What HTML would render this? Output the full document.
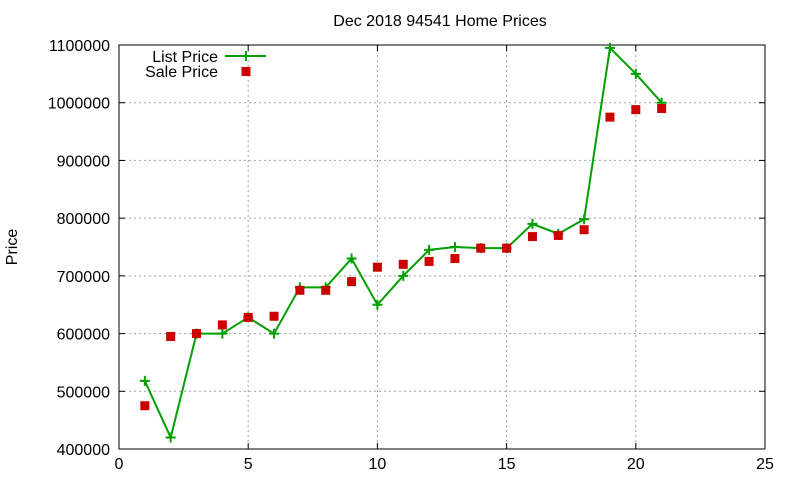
<!DOCTYPE html>
<html><head><meta charset="utf-8"><style>
body{margin:0;background:#fff}
svg{display:block;font-family:"Liberation Sans",sans-serif}
</style></head><body>
<svg id="s" width="800" height="480" xmlns="http://www.w3.org/2000/svg"></svg>
<script>
var L=119,R=765,T=45,B=449;
function X(v){return L+(R-L)*v/25}
function Y(v){return B-(B-T)*(v-400000)/700000}
var h='<rect width="800" height="480" fill="#fff"/>';
h+='<text x="440" y="26" font-size="16" text-anchor="middle">Dec 2018 94541 Home Prices</text>';
h+='<text transform="translate(17,247) rotate(-90)" font-size="16" text-anchor="middle">Price</text>';
for(var i=0;i<=5;i++){var x=X(i*5);
 if(i>0&&i<5)h+='<line x1="'+x+'" y1="'+T+'" x2="'+x+'" y2="'+B+'" stroke="#a0a0a0" stroke-dasharray="2,3"/>';
 h+='<line x1="'+x+'" y1="'+B+'" x2="'+x+'" y2="'+(B-6)+'" stroke="#000"/><line x1="'+x+'" y1="'+T+'" x2="'+x+'" y2="'+(T+6)+'" stroke="#000"/>';
 h+='<text x="'+x+'" y="469" font-size="16" text-anchor="middle">'+(i*5)+'</text>';}
for(var v=400000;v<=1100000;v+=100000){var y=Y(v);
 if(v>400000&&v<1100000)h+='<line x1="'+L+'" y1="'+y+'" x2="'+R+'" y2="'+y+'" stroke="#a0a0a0" stroke-dasharray="2,3"/>';
 h+='<line x1="'+L+'" y1="'+y+'" x2="'+(L+6)+'" y2="'+y+'" stroke="#000"/><line x1="'+R+'" y1="'+y+'" x2="'+(R-6)+'" y2="'+y+'" stroke="#000"/>';
 h+='<text x="'+(L-9)+'" y="'+(y+6)+'" font-size="16" text-anchor="end">'+v+'</text>';}
h+='<rect x="'+L+'" y="'+T+'" width="'+(R-L)+'" height="'+(B-T)+'" fill="none" stroke="#000"/>';
var lp=[518000,420000,600000,600000,628000,600000,680000,680000,730000,650000,700000,745000,750000,748000,748000,790000,773000,798000,1095000,1050000,1000000];
var sp=[475000,595000,600000,615000,628000,630000,675000,675000,690000,715000,720000,725000,730000,748000,748000,768000,770000,780000,975000,988000,990000];
var pts=lp.map(function(v,i){return X(i+1)+','+Y(v)}).join(' ');
h+='<polyline points="'+pts+'" fill="none" stroke="#00a000" stroke-width="2"/>';
lp.forEach(function(v,i){var x=X(i+1),y=Y(v);h+='<path d="M'+(x-5)+' '+y+'H'+(x+5)+'M'+x+' '+(y-5)+'V'+(y+5)+'" stroke="#00a000" stroke-width="2"/>';});
sp.forEach(function(v,i){var x=X(i+1),y=Y(v);h+='<rect x="'+(x-4.5)+'" y="'+(y-4.5)+'" width="9" height="9" fill="#cc0000"/>';});
h+='<text x="218" y="62" font-size="16" text-anchor="end">List Price</text>';
h+='<line x1="225" y1="56" x2="266" y2="56" stroke="#00a000" stroke-width="2"/><path d="M241 56H251M246 51V61" stroke="#00a000" stroke-width="2"/>';
h+='<text x="218" y="77" font-size="16" text-anchor="end">Sale Price</text>';
h+='<rect x="241.5" y="67" width="9" height="9" fill="#cc0000"/>';
document.getElementById('s').innerHTML=h;
</script>
</body></html>
